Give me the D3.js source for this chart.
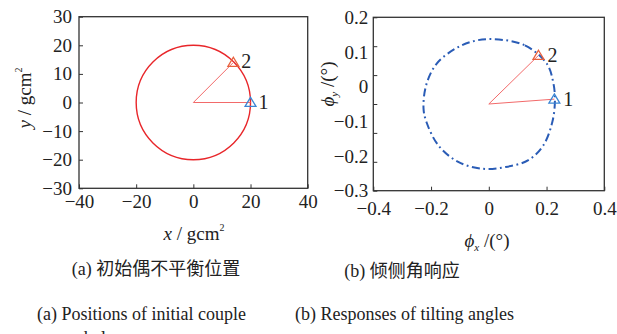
<!DOCTYPE html>
<html>
<head>
<meta charset="utf-8">
<script src="https://cdn.jsdelivr.net/npm/d3@7/dist/d3.min.js"></script>
<style>
  html, body { margin: 0; padding: 0; background: #fff; }
  svg { display: block; }
  text { font-family: "Liberation Serif", "Noto Sans CJK SC", serif; fill: #222; }
</style>
</head>
<body>
<svg id="fig" width="617" height="334"></svg>
<script>
// (a) initial couple-unbalance positions, gcm^2
const unbalanceRadius = 20;
const unbalanceLabels = ["1", "2"];
const unbalanceX = [20, 14];
const unbalanceY = [0, 14];
const axisTicksA = [-40, -20, 0, 20, 40];
const axisTicksAy = [-30, -20, -10, 0, 10, 20, 30];

// (b) tilting-angle response trajectory, degrees
const responseX = [0.016, 0.125, 0.201, 0.223, 0.229, 0.220, 0.189, 0.137, 0.056, -0.019,
                   -0.106, -0.175, -0.215, -0.226, -0.217, -0.181, -0.117, -0.054];
const responseY = [0.137, 0.119, 0.066, 0.013, -0.039, -0.102, -0.169, -0.212, -0.232, -0.237,
                   -0.217, -0.169, -0.104, -0.064, 0.004, 0.066, 0.109, 0.131];
const responseOrigin = [0, -0.05];
const tiltLabels = ["1", "2"];
const tiltX = [0.227, 0.172];
const tiltY = [-0.036, 0.090];
const axisTicksBx = [-0.4, -0.2, 0, 0.2, 0.4];
const axisTicksBy = [0.2, 0.1, 0, -0.1, -0.2, -0.3];

const svg = d3.select("#fig");
const boxColor = "#333";
const serif = "Liberation Serif, Noto Sans CJK SC, serif";
const pointColors = ["#3b86d4", "#e8603c"];
const tickFont = 19;

function triangle(g, cx, cy, color) {
  const s = 5.2;
  g.append("path")
    .attr("d", `M${cx},${cy - s}L${cx + s * 1.05},${cy + s * 0.75}L${cx - s * 1.05},${cy + s * 0.75}Z`)
    .attr("fill", "none").attr("stroke", color).attr("stroke-width", 1.3);
}

function frame(g, x, y, ticksX, marksY, labelsY, padX, padY) {
  const [x0, x1] = x.range();
  const [y1, y0] = y.range();
  const ax = g.append("g").attr("transform", `translate(0,${y1})`)
    .call(d3.axisBottom(x).tickValues(ticksX).tickSizeInner(-4).tickSizeOuter(0).tickPadding(padX)
      .tickFormat(d3.format("")));
  ax.attr("font-family", serif);
  ax.select(".domain").remove();
  ax.selectAll("line").attr("stroke", boxColor);
  ax.selectAll("text").attr("font-size", tickFont).attr("fill", "#222");

  const marks = g.append("g").attr("transform", `translate(${x0},0)`)
    .call(d3.axisLeft(y).tickValues(marksY).tickSizeInner(-4).tickSizeOuter(0).tickFormat(""));
  marks.select(".domain").remove();
  marks.selectAll("line").attr("stroke", boxColor);

  const labs = g.append("g").attr("transform", `translate(${x0},0)`)
    .call(d3.axisLeft(y).tickValues(labelsY).tickSize(0).tickPadding(padY)
      .tickFormat(d3.format("")));
  labs.attr("font-family", serif);
  labs.select(".domain").remove();
  labs.selectAll("text").attr("font-size", tickFont).attr("fill", "#222");

  g.append("rect").attr("x", x0).attr("y", y0).attr("width", x1 - x0).attr("height", y1 - y0)
    .attr("fill", "none").attr("stroke", boxColor).attr("stroke-width", 1.3);
}

// ---------- panel (a) ----------
const xa = d3.scaleLinear().domain([-40, 40]).range([79, 307.7]);
const ya = d3.scaleLinear().domain([-30, 30]).range([188.3, 16.7]);
const ga = svg.append("g");

ga.append("circle")
  .attr("cx", xa(0)).attr("cy", ya(0))
  .attr("r", xa(unbalanceRadius) - xa(0))
  .attr("fill", "none").attr("stroke", "#e8262a").attr("stroke-width", 1.4);

unbalanceX.forEach((vx, i) => {
  ga.append("line")
    .attr("x1", xa(0)).attr("y1", ya(0)).attr("x2", xa(vx)).attr("y2", ya(unbalanceY[i]))
    .attr("stroke", "#f26a6a").attr("stroke-width", 1);
});
unbalanceX.forEach((vx, i) => {
  triangle(ga, xa(vx), ya(unbalanceY[i]), pointColors[i]);
  ga.append("text").attr("x", xa(vx) + 8).attr("y", ya(unbalanceY[i]) + 6)
    .attr("font-size", 20).text(unbalanceLabels[i]);
});

frame(ga, xa, ya, axisTicksA, axisTicksAy, axisTicksAy, 6, 7);

ga.append("text").attr("x", 194).attr("y", 240).attr("text-anchor", "middle").attr("font-size", 19)
  .call(t => {
    t.append("tspan").attr("font-style", "italic").text("x");
    t.append("tspan").text(" / gcm");
    t.append("tspan").attr("font-size", 10).attr("dy", -9).text("2");
  });
ga.append("text").attr("transform", "translate(31,98) rotate(-90)").attr("text-anchor", "middle")
  .attr("font-size", 19)
  .call(t => {
    t.append("tspan").attr("font-style", "italic").text("y");
    t.append("tspan").text(" / gcm");
    t.append("tspan").attr("font-size", 10).attr("dy", -9).text("2");
  });

// ---------- panel (b) ----------
const xb = d3.scaleLinear().domain([-0.4, 0.4]).range([373.3, 604.3]);
const yb = d3.scaleLinear().domain([-0.3, 0.2]).range([190.7, 17.3]);
const gb = svg.append("g");

const loop = d3.line().x(d => xb(d[0])).y(d => yb(d[1])).curve(d3.curveCatmullRomClosed.alpha(0.5));
gb.append("path")
  .attr("d", loop(responseX.map((v, i) => [v, responseY[i]])))
  .attr("fill", "none").attr("stroke", "#2a5cb6").attr("stroke-width", 2)
  .attr("stroke-dasharray", "8,3.5,1.8,3.5");

tiltX.forEach((vx, i) => {
  gb.append("line")
    .attr("x1", xb(responseOrigin[0])).attr("y1", yb(responseOrigin[1]))
    .attr("x2", xb(vx)).attr("y2", yb(tiltY[i]))
    .attr("stroke", "#f26a6a").attr("stroke-width", 1);
});
tiltX.forEach((vx, i) => {
  triangle(gb, xb(vx), yb(tiltY[i]), pointColors[i]);
  gb.append("text").attr("x", xb(vx) + 9).attr("y", yb(tiltY[i]) + 7)
    .attr("font-size", 20).text(tiltLabels[i]);
});

// tick marks split the frame into six equal steps
const marksB = d3.range(7).map(i => 0.2 - i * 0.5 / 6);
frame(gb, xb, yb, axisTicksBx, marksB, axisTicksBy, 11, 5);

gb.append("text").attr("x", 487).attr("y", 247).attr("text-anchor", "middle").attr("font-size", 19)
  .call(t => {
    t.append("tspan").attr("font-style", "italic").text("ϕ");
    t.append("tspan").attr("font-style", "italic").attr("font-size", 11).attr("dy", 4).text("x");
    t.append("tspan").attr("dy", -4).text(" /(°)");
  });
gb.append("text").attr("transform", "translate(334,84) rotate(-90)").attr("text-anchor", "middle")
  .attr("font-size", 19)
  .call(t => {
    t.append("tspan").attr("font-style", "italic").text("ϕ");
    t.append("tspan").attr("font-style", "italic").attr("font-size", 11).attr("dy", 4).text("y");
    t.append("tspan").attr("dy", -4).text(" /(°)");
  });

// ---------- captions ----------
svg.append("text").attr("x", 156).attr("y", 275).attr("text-anchor", "middle").attr("font-size", 18)
  .text("(a)  初始偶不平衡位置");
svg.append("text").attr("x", 402).attr("y", 277).attr("text-anchor", "middle").attr("font-size", 18)
  .text("(b)  倾侧角响应");
svg.append("text").attr("x", 37).attr("y", 320).attr("font-size", 18)
  .text("(a)  Positions of initial couple");
svg.append("text").attr("x", 295).attr("y", 320).attr("font-size", 18)
  .text("(b)  Responses of tilting angles");
svg.append("text").attr("x", 66).attr("y", 344).attr("font-size", 18)
  .text("unbalance");
</script>
</body>
</html>
